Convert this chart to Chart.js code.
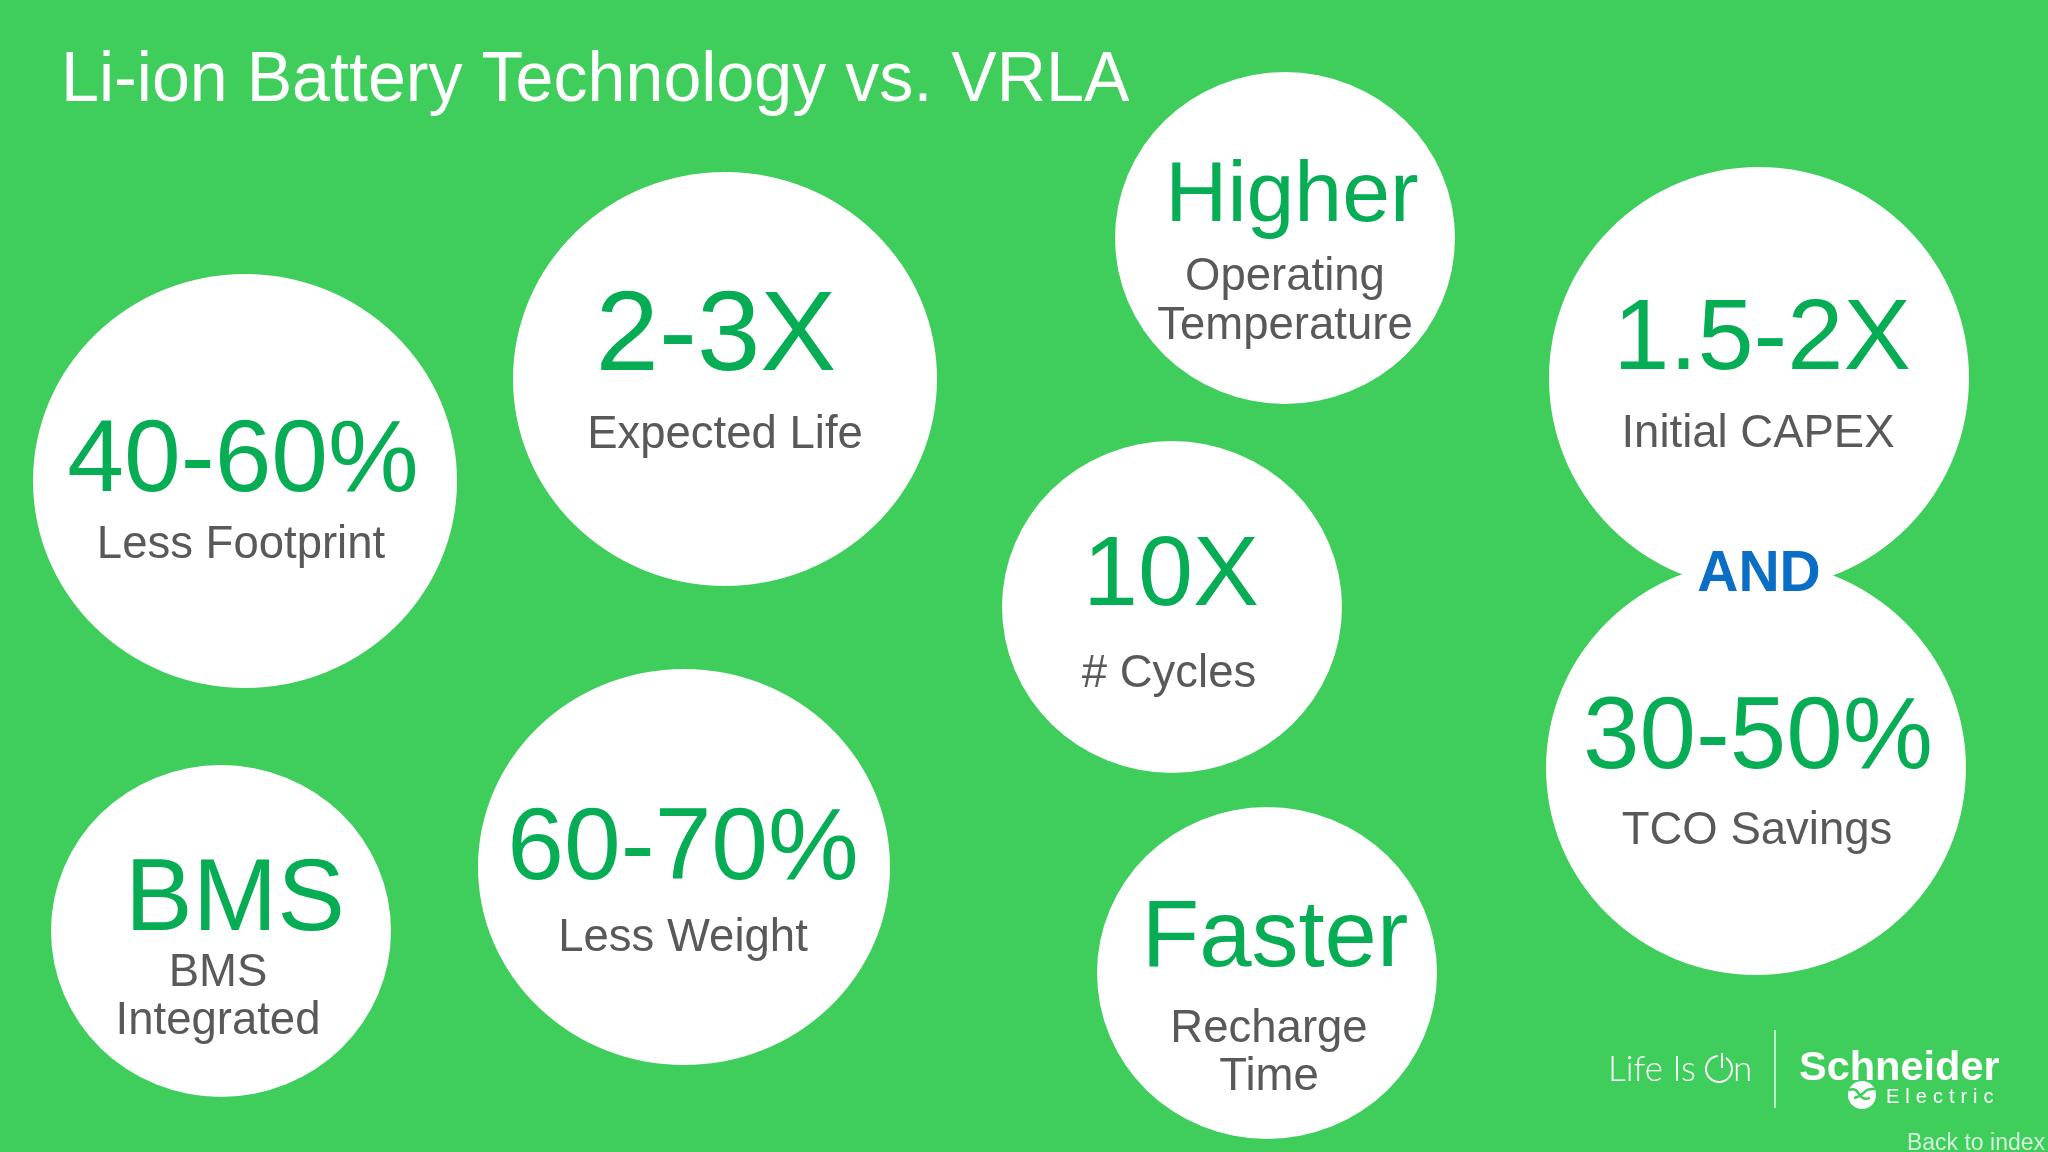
<!DOCTYPE html>
<html>
<head>
<meta charset="utf-8">
<title>Li-ion Battery Technology vs. VRLA</title>
<script src="https://cdn.jsdelivr.net/npm/chart.js"></script>
<style>
    html, body { margin: 0; padding: 0; background: #3fcd5b; overflow: hidden; }
    #slideChart { display: block; }
</style>
</head>
<body>
<canvas id="slideChart" width="2048" height="1152"></canvas>
<script>
// Bubble values (same order in every list)
const headlines = ['40-60%', '2-3X', 'Higher', '1.5-2X', '30-50%', '10X', 'BMS', '60-70%', 'Faster'];
const captions = [['Less Footprint'], ['Expected Life'], ['Operating', 'Temperature'], ['Initial CAPEX'],
    ['TCO Savings'], ['# Cycles'], ['BMS', 'Integrated'], ['Less Weight'], ['Recharge', 'Time']];
const bubbleX = [245, 725, 1285, 1759, 1756, 1172, 221, 684, 1267];
const bubbleY = [481, 379, 238, 378, 768, 607, 931, 867, 973];
const bubbleRadiusX = [212, 212, 170, 210, 210, 170, 170, 206, 170];
const bubbleRadiusY = [207, 207, 166, 211, 207, 166, 166, 198, 166];

const titleText = 'Li-ion Battery Technology vs. VRLA';
const joinText = 'AND';

const GREEN = '#06ad55';
const GREY = '#59595c';
const FONT = '"Liberation Sans", Arial, sans-serif';

// where the words sit for each bubble: headline x, baseline, size, caption x, baselines
const textLayout = [
    { hx: 243, hy: 491, hs: 102, cx: 241, cy: [558] },
    { hx: 716, hy: 370, hs: 114, cx: 725, cy: [448] },
    { hx: 1292, hy: 221, hs: 86, cx: 1285, cy: [290, 339] },
    { hx: 1762, hy: 369, hs: 101, cx: 1758, cy: [447] },
    { hx: 1758, hy: 768, hs: 101.5, cx: 1757, cy: [844] },
    { hx: 1171, hy: 605, hs: 99, cx: 1169, cy: [687] },
    { hx: 235, hy: 930, hs: 101.5, cx: 218, cy: [986, 1034] },
    { hx: 683, hy: 879, hs: 102, cx: 683, cy: [951] },
    { hx: 1275, hy: 966, hs: 94, cx: 1269, cy: [1042, 1090] }
];

// Chart.js only draws round bubbles, the slide ones are a bit squashed
function makeEllipse(rx, ry) {
    const c = document.createElement('canvas');
    c.width = Math.ceil(rx * 2) + 2;
    c.height = Math.ceil(ry * 2) + 2;
    const g = c.getContext('2d');
    g.fillStyle = '#ffffff';
    g.beginPath();
    g.ellipse(c.width / 2, c.height / 2, rx, ry, 0, 0, Math.PI * 2);
    g.fill();
    return c;
}
const ellipses = bubbleX.map((x, i) => makeEllipse(bubbleRadiusX[i], bubbleRadiusY[i]));

function drawText(ctx, text, x, y, font, color, align, spacing) {
    ctx.font = font;
    ctx.fillStyle = color;
    ctx.textAlign = align || 'center';
    ctx.textBaseline = 'alphabetic';
    ctx.letterSpacing = spacing || '0px';
    ctx.fillText(text, x, y);
}

function drawLogo(ctx) {
    // Life Is On, the O is a power symbol
    drawText(ctx, 'Life Is', 1608, 1081, '300 35px Lato, ' + FONT, '#ffffff', 'left');
    ctx.strokeStyle = '#ffffff';
    ctx.lineWidth = 2;
    ctx.beginPath();
    ctx.arc(1719, 1069, 13, -1.0, Math.PI * 1.5 - 0.1);
    ctx.stroke();
    ctx.beginPath();
    ctx.moveTo(1722, 1053);
    ctx.lineTo(1722, 1068);
    ctx.stroke();
    drawText(ctx, 'n', 1733, 1081, '300 35px Lato, ' + FONT, '#ffffff', 'left');

    ctx.strokeStyle = '#bfeccb';
    ctx.beginPath();
    ctx.moveTo(1775, 1030);
    ctx.lineTo(1775, 1108);
    ctx.stroke();

    drawText(ctx, 'Schneider', 1799, 1080, 'bold 41.5px ' + FONT, '#ffffff', 'left');
    drawText(ctx, 'Electric', 1886, 1103, '20px ' + FONT, '#ffffff', 'left', '6px');
    ctx.fillStyle = '#ffffff';
    ctx.beginPath();
    ctx.arc(1862, 1095, 14, 0, Math.PI * 2);
    ctx.fill();
    // the two wavy cuts of the mark
    ctx.strokeStyle = '#3fcd5b';
    ctx.lineWidth = 2.5;
    ctx.beginPath();
    ctx.moveTo(1849, 1090);
    ctx.bezierCurveTo(1862, 1086, 1856, 1102, 1870, 1098);
    ctx.stroke();
    ctx.beginPath();
    ctx.moveTo(1854, 1098);
    ctx.bezierCurveTo(1866, 1096, 1862, 1088, 1875, 1089);
    ctx.stroke();
}

const slideText = {
    id: 'slideText',
    afterDatasetsDraw(chart) {
        const ctx = chart.ctx;
        ctx.save();
        // title in the slide is narrower than Liberation at this height
        ctx.save();
        ctx.translate(61, 101);
        ctx.scale(0.96, 1);
        drawText(ctx, titleText, 0, 0, '71px ' + FONT, '#ffffff', 'left');
        ctx.restore();
        headlines.forEach((word, i) => {
            const t = textLayout[i];
            drawText(ctx, word, t.hx, t.hy, t.hs + 'px ' + FONT, GREEN);
            captions[i].forEach((line, j) => {
                drawText(ctx, line, t.cx, t.cy[j], '45.5px ' + FONT, GREY);
            });
        });
        drawText(ctx, joinText, 1759, 591, 'bold 57px ' + FONT, '#0a6ec4');
        drawLogo(ctx);
        drawText(ctx, 'Back to index', 2045, 1150, '23px ' + FONT, '#d3f0da', 'right');
        ctx.restore();
    }
};

new Chart(document.getElementById('slideChart').getContext('2d'), {
    type: 'bubble',
    data: {
        datasets: [{
            data: bubbleX.map((x, i) => ({ x: x, y: bubbleY[i], r: bubbleRadiusX[i] })),
            pointStyle: ctx => ellipses[ctx.dataIndex],
            backgroundColor: '#ffffff',
            borderWidth: 0,
            clip: false
        }]
    },
    options: {
        responsive: false,
        animation: false,
        events: [],
        layout: { padding: 0, autoPadding: false },
        scales: {
            x: { display: false, min: 0, max: 2048 },
            y: { display: false, min: 0, max: 1152, reverse: true }
        },
        plugins: {
            legend: { display: false },
            tooltip: { enabled: false }
        }
    },
    plugins: [slideText]
});
</script>
</body>
</html>
